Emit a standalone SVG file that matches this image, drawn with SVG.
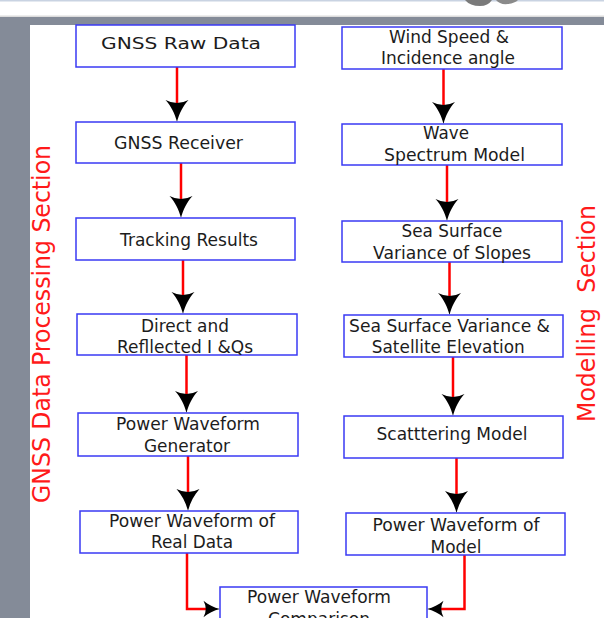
<svg xmlns="http://www.w3.org/2000/svg" width="604" height="618" viewBox="0 0 604 618">
  <style>
    .box { fill: #ffffff; stroke: #3a3af4; stroke-width: 1.5; }
    .lbl { font-family: "DejaVu Sans", "Liberation Sans", sans-serif; font-size: 17px; fill: #1c1c1c; text-anchor: middle; }
    .sec { font-family: "DejaVu Sans Condensed", "DejaVu Sans", sans-serif; font-size: 24px; fill: #ff1a1a; text-anchor: middle; }
    .wire { fill: none; stroke: #ff0000; stroke-width: 2.5; }
    .head { fill: #000000; }
  </style>
  <defs>
    <!-- downward arrowhead, tip at origin -->
    <path id="ah" d="M0,0 C-2,-8 -6,-16 -11.5,-22 Q0,-16 11.5,-22 C6,-16 2,-8 0,0 Z"/>
  </defs>

  <!-- page frame -->
  <rect x="0" y="0" width="604" height="618" fill="#ffffff"/>
  <rect x="0" y="0" width="604" height="1.5" fill="#c9d3e2"/>
  <rect x="0" y="15.5" width="604" height="1.5" fill="#dcdcdc"/>
  <rect x="0" y="17" width="604" height="8" fill="#848b98"/>
  <rect x="0" y="17" width="30" height="601" fill="#848b98"/>
  <path d="M465,0 Q470,6 480,6 Q488,6 492,0 Z" fill="#7a7a7a"/>
  <path d="M496,0 Q500,5 508,4 Q515,3 518,0 Z" fill="#8a8a8a"/>

  <!-- section titles -->
  <text class="sec" transform="translate(49.5,324) rotate(-90)" textLength="358" lengthAdjust="spacingAndGlyphs">GNSS Data Processing Section</text>
  <text class="sec" transform="translate(595,313.5) rotate(-90)" textLength="217" lengthAdjust="spacingAndGlyphs" xml:space="preserve">Modelling  Section</text>

  <!-- connectors -->
  <g id="connectors">
    <line class="wire" x1="177" y1="67" x2="177" y2="104"/>
    <use href="#ah" class="head" transform="translate(177,122)"/>
    <line class="wire" x1="181" y1="163" x2="181" y2="200"/>
    <use href="#ah" class="head" transform="translate(181,218)"/>
    <line class="wire" x1="183" y1="260" x2="183" y2="296"/>
    <use href="#ah" class="head" transform="translate(183,314)"/>
    <line class="wire" x1="186.5" y1="355" x2="186.5" y2="395"/>
    <use href="#ah" class="head" transform="translate(186.5,413)"/>
    <line class="wire" x1="188" y1="456" x2="188" y2="493"/>
    <use href="#ah" class="head" transform="translate(188,511)"/>

    <line class="wire" x1="443.5" y1="69" x2="443.5" y2="106"/>
    <use href="#ah" class="head" transform="translate(443.5,124)"/>
    <line class="wire" x1="447" y1="165" x2="447" y2="203"/>
    <use href="#ah" class="head" transform="translate(447,221)"/>
    <line class="wire" x1="449.5" y1="262" x2="449.5" y2="297"/>
    <use href="#ah" class="head" transform="translate(449.5,315)"/>
    <line class="wire" x1="453" y1="357" x2="453" y2="398"/>
    <use href="#ah" class="head" transform="translate(453,416)"/>
    <line class="wire" x1="456.5" y1="458" x2="456.5" y2="495"/>
    <use href="#ah" class="head" transform="translate(456.5,513)"/>

    <polyline class="wire" points="187,553 187,609 208,609"/>
    <use href="#ah" class="head" transform="translate(220,609) rotate(-90) scale(0.72,0.75)"/>
    <polyline class="wire" points="464.5,555 464.5,609 440,609"/>
    <use href="#ah" class="head" transform="translate(427,609) rotate(90) scale(0.72,0.75)"/>
  </g>

  <!-- processing chain -->
  <g id="gnss-raw-data">
    <rect class="box" x="76" y="25" width="219" height="42"/>
    <text class="lbl" x="181" y="48.5" style="font-size:16px" textLength="160" lengthAdjust="spacingAndGlyphs">GNSS Raw Data</text>
  </g>
  <g id="gnss-receiver">
    <rect class="box" x="76" y="122" width="219" height="41"/>
    <text class="lbl" x="178.5" y="149" textLength="129" lengthAdjust="spacingAndGlyphs">GNSS Receiver</text>
  </g>
  <g id="tracking-results">
    <rect class="box" x="76" y="218" width="219" height="42"/>
    <text class="lbl" x="189" y="245.5" textLength="138" lengthAdjust="spacingAndGlyphs">Tracking Results</text>
  </g>
  <g id="direct-reflected">
    <rect class="box" x="77" y="314" width="220" height="41"/>
    <text class="lbl" x="185" y="331.5" textLength="88" lengthAdjust="spacingAndGlyphs">Direct and</text>
    <text class="lbl" x="185" y="353" textLength="136" lengthAdjust="spacingAndGlyphs">Refllected I &amp;Qs</text>
  </g>
  <g id="waveform-generator">
    <rect class="box" x="78" y="413" width="220" height="43"/>
    <text class="lbl" x="188" y="430" textLength="144" lengthAdjust="spacingAndGlyphs">Power Waveform</text>
    <text class="lbl" x="187" y="451.5" textLength="86" lengthAdjust="spacingAndGlyphs">Generator</text>
  </g>
  <g id="waveform-real">
    <rect class="box" x="80" y="511" width="218" height="42"/>
    <text class="lbl" x="192" y="526.5" textLength="166" lengthAdjust="spacingAndGlyphs">Power Waveform of</text>
    <text class="lbl" x="192" y="548" textLength="82" lengthAdjust="spacingAndGlyphs">Real Data</text>
  </g>

  <!-- modelling chain -->
  <g id="wind-speed">
    <rect class="box" x="342" y="27" width="220" height="42"/>
    <text class="lbl" x="449" y="43.3" textLength="120" lengthAdjust="spacingAndGlyphs">Wind Speed &amp;</text>
    <text class="lbl" x="448" y="64.3" textLength="134" lengthAdjust="spacingAndGlyphs">Incidence angle</text>
  </g>
  <g id="wave-spectrum">
    <rect class="box" x="342" y="124" width="220" height="41"/>
    <text class="lbl" x="446" y="139" textLength="46" lengthAdjust="spacingAndGlyphs">Wave</text>
    <text class="lbl" x="454.5" y="161" textLength="141" lengthAdjust="spacingAndGlyphs">Spectrum Model</text>
  </g>
  <g id="slope-variance">
    <rect class="box" x="342" y="221" width="220" height="41"/>
    <text class="lbl" x="452" y="237.3" textLength="101" lengthAdjust="spacingAndGlyphs">Sea Surface</text>
    <text class="lbl" x="452" y="259.3" textLength="158" lengthAdjust="spacingAndGlyphs">Variance of Slopes</text>
  </g>
  <g id="variance-elevation">
    <rect class="box" x="344" y="315" width="219" height="42"/>
    <text class="lbl" x="449.5" y="331.7" textLength="201" lengthAdjust="spacingAndGlyphs">Sea Surface Variance &amp;</text>
    <text class="lbl" x="448.3" y="353" textLength="153" lengthAdjust="spacingAndGlyphs">Satellite Elevation</text>
  </g>
  <g id="scattering-model">
    <rect class="box" x="344" y="416" width="219" height="42"/>
    <text class="lbl" x="452" y="440" textLength="151" lengthAdjust="spacingAndGlyphs">Scatttering Model</text>
  </g>
  <g id="waveform-model">
    <rect class="box" x="346" y="513" width="219" height="42"/>
    <text class="lbl" x="456" y="530.7" textLength="167" lengthAdjust="spacingAndGlyphs">Power Waveform of</text>
    <text class="lbl" x="456" y="552.7" textLength="51" lengthAdjust="spacingAndGlyphs">Model</text>
  </g>

  <!-- comparison -->
  <g id="waveform-comparison">
    <rect class="box" x="220" y="587" width="207" height="45"/>
    <text class="lbl" x="319" y="603.3" textLength="144" lengthAdjust="spacingAndGlyphs">Power Waveform</text>
    <text class="lbl" x="319" y="625" textLength="102" lengthAdjust="spacingAndGlyphs">Comparison</text>
  </g>
</svg>
